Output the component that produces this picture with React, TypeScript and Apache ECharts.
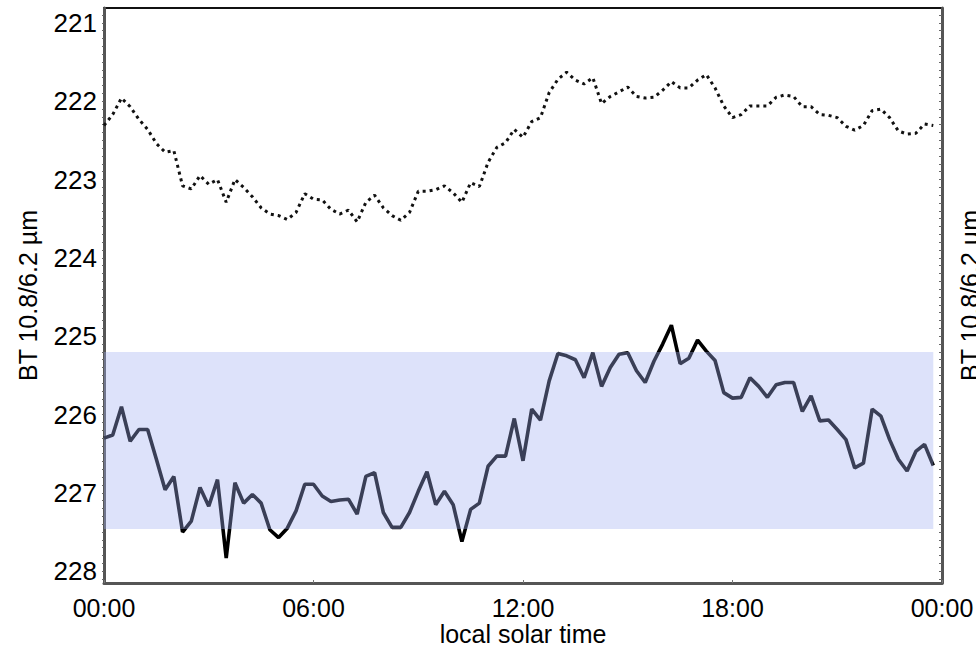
import React, { useEffect, useRef } from "react";
import * as echarts from "echarts";

// BT 10.8/6.2 µm, sampled every 15 minutes of local solar time (00:00 .. 23:45)
const SOLID_VALUES: number[] = [
  226.30, 226.26, 225.90, 226.34, 226.19, 226.19, 226.57, 226.96, 226.79, 227.50,
  227.36, 226.93, 227.17, 226.83, 227.83, 226.87, 227.13, 227.02, 227.13, 227.47,
  227.57, 227.45, 227.23, 226.89, 226.89, 227.04, 227.11, 227.09, 227.08, 227.27,
  226.79, 226.74, 227.25, 227.44, 227.44, 227.25, 226.98, 226.73, 227.15, 226.98,
  227.15, 227.62, 227.21, 227.13, 226.66, 226.53, 226.53, 226.05, 226.59, 225.93,
  226.07, 225.57, 225.22, 225.25, 225.30, 225.53, 225.21, 225.64, 225.40, 225.23,
  225.21, 225.44, 225.59, 225.32, 225.10, 224.86, 225.35, 225.28, 225.05, 225.19,
  225.31, 225.72, 225.79, 225.78, 225.53, 225.64, 225.78, 225.62, 225.59, 225.59,
  225.96, 225.76, 226.08, 226.07, 226.19, 226.32, 226.68, 226.62, 225.93, 226.02,
  226.32, 226.57, 226.72, 226.47, 226.38, 226.65,
];

const DOTTED_VALUES: number[] = [
  222.31, 222.17, 221.96, 222.07, 222.23, 222.36, 222.54, 222.65, 222.63, 223.08,
  223.12, 222.95, 223.06, 223.00, 223.29, 223.00, 223.10, 223.22, 223.36, 223.44,
  223.46, 223.51, 223.42, 223.18, 223.25, 223.26, 223.38, 223.44, 223.39, 223.54,
  223.29, 223.20, 223.36, 223.46, 223.52, 223.42, 223.15, 223.15, 223.13, 223.08,
  223.17, 223.29, 223.04, 223.09, 222.78, 222.59, 222.53, 222.36, 222.46, 222.26,
  222.21, 221.89, 221.72, 221.63, 221.73, 221.78, 221.70, 222.03, 221.94, 221.88,
  221.82, 221.94, 221.96, 221.95, 221.86, 221.75, 221.83, 221.83, 221.73, 221.66,
  221.83, 222.06, 222.21, 222.17, 222.06, 222.06, 222.06, 221.95, 221.92, 221.94,
  222.07, 222.07, 222.17, 222.18, 222.21, 222.32, 222.37, 222.31, 222.12, 222.10,
  222.21, 222.38, 222.42, 222.41, 222.29, 222.31,
];

const STEP_HOURS = 0.25; // 15-minute sampling
const TIMES: number[] = SOLID_VALUES.map((_, i) => i * STEP_HOURS);

// shaded band: [start hour, upper BT, end hour, lower BT]
const BAND: number[] = [0, 225.2, 23.75, 227.46];

const Y_TICKS: number[] = [221, 222, 223, 224, 225, 226, 227, 228];
// small tick marks every 0.1 K along the vertical axes
const Y_MINOR_TICKS: number[] = Array.from({ length: 73 }, (_, i) => Math.round((220.9 + i * 0.1) * 10) / 10);
const X_TICK_LABELS: Record<number, string> = {
  0: "00:00",
  6: "06:00",
  12: "12:00",
  18: "18:00",
  24: "00:00",
};

const FONT = "'Liberation Sans', Arial, Helvetica, sans-serif";

export default function App() {
  const ref = useRef<HTMLDivElement>(null);

  useEffect(() => {
    if (!ref.current) return;
    const chart = echarts.init(ref.current, undefined, { renderer: "svg" });

    const solid = TIMES.map((t, i) => [t, SOLID_VALUES[i]]);
    const dotted = TIMES.map((t, i) => [t, DOTTED_VALUES[i]]);

    const yAxisBase = {
      type: "value" as const,
      min: 220.81,
      max: 228.15,
      inverse: true,
      splitLine: { show: false },
      axisLine: { show: true, lineStyle: { color: "#555", width: 3 } },
    };

    chart.setOption({
      animation: false,
      backgroundColor: "#ffffff",
      grid: {
        left: 104,
        right: 34,
        top: 8,
        bottom: 64,
        outerBoundsMode: "none",
        containLabel: false,
        show: true,
        borderColor: "#111",
        borderWidth: 2,
        backgroundColor: "transparent",
      },
      xAxis: {
        type: "value",
        min: 0,
        max: 24,
        interval: 6,
        splitLine: { show: false },
        axisLine: { show: true, lineStyle: { color: "#555", width: 3 } },
        axisTick: { show: true, inside: true, length: 3, lineStyle: { color: "#777" } },
        axisLabel: {
          color: "#000",
          fontFamily: FONT,
          fontSize: 25,
          lineHeight: 22,
          margin: 14,
          formatter: (v: number) => X_TICK_LABELS[v] ?? "",
        },
        name: "local solar time",
        nameLocation: "middle",
        nameGap: 40,
        nameMoveOverlap: false,
        nameTextStyle: { color: "#000", fontFamily: FONT, fontSize: 25, lineHeight: 22 },
      },
      yAxis: [
        {
          ...yAxisBase,
          position: "left",
          axisTick: {
            show: true,
            length: 2,
            customValues: Y_MINOR_TICKS,
            lineStyle: { color: "#666", width: 1 },
          },
          axisLabel: {
            color: "#000",
            fontFamily: FONT,
            fontSize: 26,
            margin: 7,
            customValues: Y_TICKS,
            formatter: (v: number) => String(Math.round(v)),
          },
          name: "BT 10.8/6.2 µm",
          nameLocation: "middle",
          nameRotate: 90,
          nameGap: 64,
          nameTextStyle: { color: "#000", fontFamily: FONT, fontSize: 25 },
        },
        {
          ...yAxisBase,
          position: "right",
          axisTick: {
            show: true,
            inside: true,
            length: 3,
            customValues: Y_MINOR_TICKS,
            lineStyle: { color: "#666", width: 1 },
          },
          axisLabel: { show: false },
          name: "BT 10.8/6.2 µm",
          nameLocation: "middle",
          nameRotate: 90,
          nameGap: 15,
          nameTextStyle: { color: "#000", fontFamily: FONT, fontSize: 25 },
        },
      ],
      series: [
        {
          type: "line",
          data: dotted,
          symbol: "none",
          z: 2,
          lineStyle: { color: "#111", width: 3, type: [3, 4], cap: "butt" },
        },
        {
          type: "line",
          data: solid,
          symbol: "none",
          z: 2,
          lineStyle: { color: "#000", width: 3.6 },
        },
        {
          type: "custom",
          z: 5,
          data: [BAND],
          renderItem: (params: any, api: any) => {
            const p0 = api.coord([api.value(0), api.value(1)]);
            const p1 = api.coord([api.value(2), api.value(3)]);
            return {
              type: "rect",
              shape: {
                x: Math.min(p0[0], p1[0]),
                y: Math.min(p0[1], p1[1]),
                width: Math.abs(p1[0] - p0[0]),
                height: Math.abs(p1[1] - p0[1]),
              },
              style: { fill: "rgba(161,176,240,0.36)" },
            };
          },
          encode: { x: [0, 2], y: [1, 3] },
          silent: true,
        },
      ],
    });

    return () => chart.dispose();
  }, []);

  return (
    <div
      ref={ref}
      style={{ position: "fixed", left: 0, top: 0, width: 976, height: 647, background: "#fff" }}
    />
  );
}
